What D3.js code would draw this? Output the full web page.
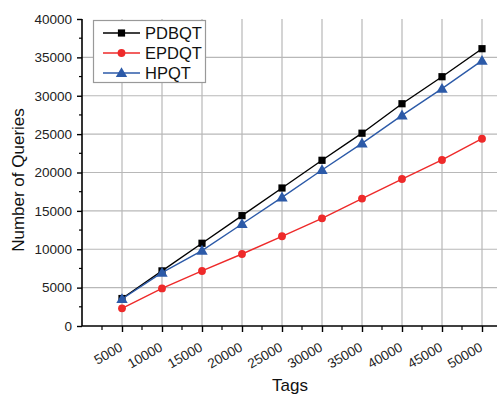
<!DOCTYPE html>
<html>
<head>
<meta charset="utf-8">
<script src="https://cdn.jsdelivr.net/npm/d3@7"></script>
<style>
  html, body { margin: 0; padding: 0; background: #fff; }
  svg { display: block; font-family: "Liberation Sans", Arial, sans-serif; }
</style>
</head>
<body>
<svg id="chart" width="497" height="394"></svg>
<script>
// Tag counts on the x axis
const tags = [5000, 10000, 15000, 20000, 25000, 30000, 35000, 40000, 45000, 50000];

// Number of queries per protocol
const pdbqt = [3580, 7180, 10780, 14380, 17980, 21590, 25120, 28960, 32480, 36130];
const epdqt = [2300, 4900, 7170, 9380, 11690, 14030, 16600, 19150, 21630, 24400];
const hpqt  = [3520, 6950, 9820, 13290, 16760, 20330, 23800, 27450, 30920, 34570];

const seriesNames = ["PDBQT", "EPDQT", "HPQT"];
const seriesColors = ["#000000", "#ee2a2a", "#2c5aa8"];
const seriesShapes = ["square", "circle", "triangle"];

const yTicks = [0, 5000, 10000, 15000, 20000, 25000, 30000, 35000, 40000];

const FONT = "'Liberation Sans', Arial, sans-serif";
const svg = d3.select("#chart");
const plotLeft = 82, plotRight = 498, plotTop = 19, plotBottom = 326;

const x = d3.scaleLinear().domain([0, 52000]).range([plotLeft, plotRight]);
const y = d3.scaleLinear().domain([0, 40000]).range([plotBottom, plotTop]);

// Grid lines
const grid = svg.append("g").attr("stroke", "#b8b8b8").attr("stroke-width", 1.2);
grid.selectAll("line.v").data(tags).join("line").attr("class", "v")
  .attr("x1", d => x(d)).attr("x2", d => x(d))
  .attr("y1", plotTop).attr("y2", plotBottom);
grid.selectAll("line.h").data(yTicks.filter(d => d > 0 && d < 40000)).join("line").attr("class", "h")
  .attr("x1", plotLeft).attr("x2", 497)
  .attr("y1", d => y(d)).attr("y2", d => y(d));

// Minor ticks
const xMinor = d3.range(2500, 52000, 5000);
const yMinor = d3.range(2500, 40000, 5000);

// X axis
const xAxis = svg.append("g").attr("transform", `translate(0,${plotBottom})`)
  .call(d3.axisBottom(x).tickValues(tags).tickSize(6).tickFormat(d3.format("d")))
  .attr("font-family", FONT);
xAxis.select(".domain").attr("stroke-width", 1.6).attr("d", `M${plotLeft},0H497`);
xAxis.selectAll(".tick line").attr("stroke-width", 1.4);
xAxis.selectAll(".tick text")
  .attr("font-size", 13.5).attr("fill", "#222")
  .attr("text-anchor", "end")
  .attr("y", 0).attr("dy", 0)
  .attr("transform", "translate(1,24) rotate(-30)");
xAxis.selectAll("line.minor").data(xMinor).join("line")
  .attr("class", "minor").attr("stroke", "#000").attr("stroke-width", 1.2)
  .attr("x1", d => x(d)).attr("x2", d => x(d)).attr("y1", 0).attr("y2", 4);

// Y axis
const yAxis = svg.append("g").attr("transform", `translate(${plotLeft},0)`)
  .call(d3.axisLeft(y).tickValues(yTicks).tickSize(5).tickPadding(5).tickFormat(d3.format("d")))
  .attr("font-family", FONT);
yAxis.select(".domain").attr("stroke-width", 1.6).attr("d", `M0,${plotBottom}V${plotTop}`);
yAxis.selectAll(".tick line").attr("stroke-width", 1.4);
yAxis.selectAll(".tick text").attr("font-size", 13.5).attr("fill", "#222");
yAxis.selectAll("line.minor").data(yMinor).join("line")
  .attr("class", "minor").attr("stroke", "#000").attr("stroke-width", 1.2)
  .attr("y1", d => y(d)).attr("y2", d => y(d)).attr("x1", 0).attr("x2", -3);

// Axis titles
svg.append("text").attr("x", 290).attr("y", 391).attr("text-anchor", "middle")
  .attr("font-size", 17).attr("fill", "#111").text("Tags");
svg.append("text").attr("transform", "translate(24,180) rotate(-90)")
  .attr("text-anchor", "middle").attr("font-size", 17).attr("fill", "#111")
  .text("Number of Queries");

// Series
const series = [pdbqt, epdqt, hpqt].map((vals, i) => ({
  name: seriesNames[i], color: seriesColors[i], shape: seriesShapes[i],
  points: tags.map((t, j) => ({ t, v: vals[j] }))
}));

const symbolFor = s => s === "square" ? d3.symbolSquare : s === "circle" ? d3.symbolCircle : d3.symbolTriangle;
const sizeFor = s => s === "square" ? 52 : s === "circle" ? 48 : 56;

const line = d3.line().x(d => x(d.t)).y(d => y(d.v));

const sg = svg.append("g").selectAll("g").data(series).join("g");
sg.append("path").attr("fill", "none").attr("stroke", d => d.color).attr("stroke-width", 1.4)
  .attr("d", d => line(d.points));
sg.each(function(s) {
  d3.select(this).selectAll("path.m").data(s.points).join("path")
    .attr("class", "m")
    .attr("transform", d => `translate(${x(d.t)},${y(d.v) + (s.shape === "triangle" ? 0.8 : 0)})`)
    .attr("d", d3.symbol().type(symbolFor(s.shape)).size(sizeFor(s.shape)))
    .attr("fill", s.color);
});

// Legend
const lg = svg.append("g");
lg.append("rect").attr("x", 93.5).attr("y", 20.5).attr("width", 112).attr("height", 62)
  .attr("fill", "#fff").attr("stroke", "#999").attr("stroke-width", 1.2);
series.forEach((s, i) => {
  const cy = 33 + i * 20;
  lg.append("line").attr("x1", 103).attr("x2", 140).attr("y1", cy).attr("y2", cy)
    .attr("stroke", s.color).attr("stroke-width", 1.4);
  lg.append("path").attr("transform", `translate(121.5,${cy + (s.shape === "triangle" ? 0.8 : 0)})`)
    .attr("d", d3.symbol().type(symbolFor(s.shape)).size(sizeFor(s.shape)))
    .attr("fill", s.color);
  lg.append("text").attr("x", 145).attr("y", cy + 6).attr("font-size", 16.5)
    .attr("fill", "#111").text(s.name);
});
</script>
</body>
</html>
